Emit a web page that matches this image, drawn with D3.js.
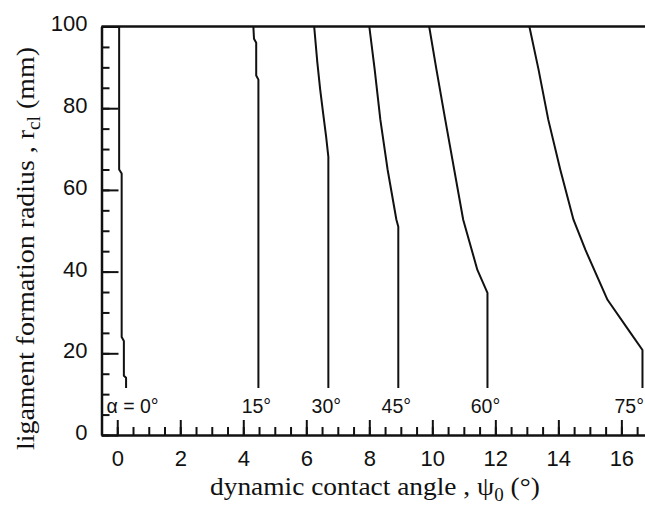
<!DOCTYPE html>
<html><head><meta charset="utf-8">
<script src="https://cdn.jsdelivr.net/npm/d3@7"></script>
<style>html,body{margin:0;padding:0;background:#fff;} svg{display:block;}</style>
</head><body>
<svg id="chart" width="645" height="509"></svg>
<script>
// ---- data ----
const curveLabels = ["α = 0°", "15°", "30°", "45°", "60°", "75°"];
const curve0  = [[0.06,100],[0.06,65],[0.14,64],[0.14,24],[0.21,23],[0.21,14.5],[0.28,14],[0.28,11.5]];
const curve15 = [[4.32,100],[4.34,97],[4.41,96],[4.41,88],[4.48,87],[4.48,11.5]];
const curve30 = [[6.25,100],[6.35,91.2],[6.44,84.6],[6.54,78.4],[6.63,73],[6.70,68.1],[6.70,11.5]];
const curve45 = [[8.0,100],[8.17,89.5],[8.35,77.2],[8.58,65],[8.86,52.7],[8.92,51],[8.92,11.5]];
const curve60 = [[9.9,100],[10.13,89.5],[10.41,77.2],[10.98,52.7],[11.43,40.4],[11.75,34.8],[11.75,11.5]];
const curve75 = [[13.08,100],[13.37,89.5],[13.68,77.2],[14.06,65],[14.48,52.7],[14.86,45.3],[15.56,33.1],[16.29,25],[16.67,20.8],[16.67,11.5]];
const xTicks = [0,2,4,6,8,10,12,14,16];
const xMinorTicks = d3.range(-0.5, 16.76, 0.5);
const yTicks = [0,20,40,60,80,100];
const yMinorTicks = d3.range(0, 100.1, 5);
const xTitle = ["dynamic contact angle , ψ", "0", " (°)"];
const yTitle = ["ligament formation radius , r", "cl", " (mm)"];

const curves = [curve0, curve15, curve30, curve45, curve60, curve75];

// ---- layout ----
const W = 645, H = 509;
const svg = d3.select("#chart");
const x = d3.scaleLinear().domain([-0.5, 16.75]).range([101.5, 645]);
const y = d3.scaleLinear().domain([0, 100]).range([435, 26.5]);
const ink = "#111";

// minor ticks
svg.append("g").attr("transform", `translate(0,${y(0)})`)
  .call(d3.axisBottom(x).tickValues(xMinorTicks).tickFormat("").tickSizeInner(-8).tickSizeOuter(0))
  .call(g => g.select(".domain").remove())
  .call(g => g.selectAll("line").attr("stroke", ink).attr("stroke-width", 2));
svg.append("g").attr("transform", `translate(${x(-0.5)},0)`)
  .call(d3.axisLeft(y).tickValues(yMinorTicks).tickFormat("").tickSizeInner(-8).tickSizeOuter(0))
  .call(g => g.select(".domain").remove())
  .call(g => g.selectAll("line").attr("stroke", ink).attr("stroke-width", 2));

// major x axis
svg.append("g").attr("transform", `translate(0,${y(0)})`)
  .call(d3.axisBottom(x).tickValues(xTicks).tickFormat(d3.format("d")).tickSizeInner(-15).tickSizeOuter(0).tickPadding(15))
  .call(g => g.select(".domain").attr("stroke", ink).attr("stroke-width", 2.5))
  .call(g => g.selectAll("line").attr("stroke", ink).attr("stroke-width", 2))
  .call(g => g.selectAll("text").attr("fill", ink).attr("font-family", "'Liberation Sans', Arial, sans-serif").attr("font-size", 22));

// major y axis
svg.append("g").attr("transform", `translate(${x(-0.5)},0)`)
  .call(d3.axisLeft(y).tickValues(yTicks).tickFormat(d3.format("d")).tickSizeInner(-17).tickSizeOuter(0).tickPadding(14))
  .call(g => g.select(".domain").attr("stroke", ink).attr("stroke-width", 2.5))
  .call(g => g.selectAll("line").attr("stroke", ink).attr("stroke-width", 2))
  .call(g => g.selectAll("text").attr("fill", ink).attr("dy", "0.2em").attr("font-family", "'Liberation Sans', Arial, sans-serif").attr("font-size", 22));

// top frame line
svg.append("line")
  .attr("x1", x(-0.5)).attr("x2", x.range()[1])
  .attr("y1", y(100)).attr("y2", y(100))
  .attr("stroke", ink).attr("stroke-width", 2.5);

// curves
const line = d3.line().x(d => x(d[0])).y(d => y(d[1]));
svg.append("g").selectAll("path").data(curves).join("path")
  .attr("d", line).attr("fill", "none").attr("stroke", ink).attr("stroke-width", 2)
  .attr("stroke-linejoin", "round");

// curve labels
const lab = svg.append("g").attr("font-family", "'Liberation Sans', Arial, sans-serif")
  .attr("font-size", 19.5).attr("fill", ink);
curves.forEach((c, i) => {
  const last = c[c.length - 1];
  const t = lab.append("text").attr("y", y(last[1]) + 25).text(curveLabels[i]);
  if (i === 0) {
    t.attr("x", x(-0.5) + 5).attr("text-anchor", "start");
  } else {
    t.attr("x", x(last[0]) - 2).attr("text-anchor", "middle");
    const b = t.node().getBBox();
    if (b.x + b.width > W - 1) t.attr("x", W - 1).attr("text-anchor", "end");
  }
});

// titles (tall, condensed serif)
function title(parts, tx, ty, rot, len) {
  const g = svg.append("g");
  const t = g.append("text").attr("font-family", "'Liberation Serif', 'Times New Roman', serif")
    .attr("font-size", 26).attr("fill", ink);
  t.append("tspan").text(parts[0]);
  t.append("tspan").attr("font-size", 18).attr("dy", 6).text(parts[1]);
  t.append("tspan").attr("dy", -6).text(parts[2]);
  const w = t.node().getBBox().width;
  g.attr("transform", `translate(${tx},${ty}) rotate(${rot}) scale(${len / w},1)`);
}
title(xTitle, 210, 495, 0, 330);
title(yTitle, 34, 450, -90, 403);
</script>
</body></html>
